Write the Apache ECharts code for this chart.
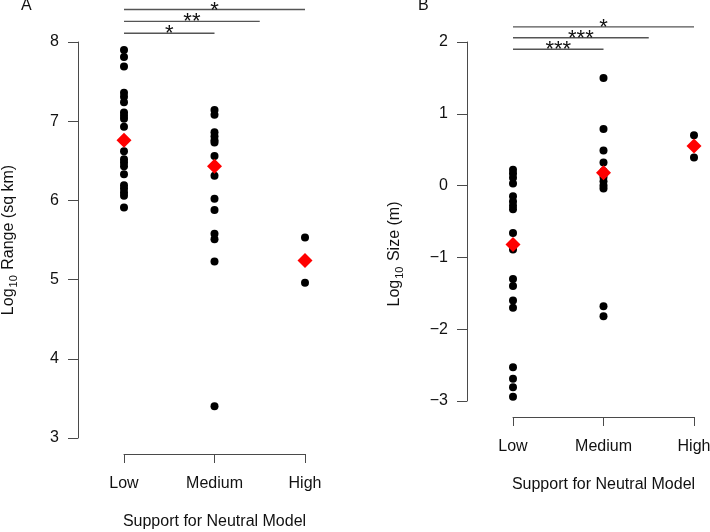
<!DOCTYPE html>
<html>
<head>
<meta charset="utf-8">
<script src="https://cdn.jsdelivr.net/npm/echarts@6/dist/echarts.min.js"></script>
<style>
html,body{margin:0;padding:0;background:#fff;}
#c{width:710px;height:532px;}
</style>
</head>
<body>
<div id="c"></div>
<script>
// ---- data ----
var categories = ['Low', 'Medium', 'High'];
var rangeLow = [7.90, 7.81, 7.69, 7.36, 7.31, 7.24, 7.11, 7.07, 7.03, 6.93, 6.62, 6.52, 6.48, 6.43, 6.33, 6.19, 6.15, 6.10, 6.06, 5.91];
var rangeMedium = [7.14, 7.08, 6.86, 6.81, 6.76, 6.73, 6.56, 6.31, 6.02, 5.88, 5.58, 5.51, 5.23, 3.40];
var rangeHigh = [5.53, 4.96];
var rangeMeans = [6.76, 6.43, 5.24];
var sizeLow = [0.22, 0.17, 0.11, 0.03, -0.15, -0.22, -0.28, -0.33, -0.66, -0.89, -1.30, -1.40, -1.60, -1.70, -2.53, -2.69, -2.81, -2.94];
var sizeMedium = [1.50, 0.79, 0.49, 0.32, 0.20, 0.12, 0.06, 0.00, -0.04, -1.68, -1.82];
var sizeHigh = [0.70, 0.39];
var sizeMeans = [-0.82, 0.18, 0.55];
var rangeTicks = [3, 4, 5, 6, 7, 8];
var sizeTicks = [-3, -2, -1, 0, 1, 2];
// significance comparisons: [fromCategory, toCategory, level (data units), label]
var sigRange = [[1, 2, 8.11, '*'], [1, 2.5, 8.26, '**'], [1, 3, 8.41, '*']];
var sigSize = [[1, 2, 1.90, '***'], [1, 2.5, 2.06, '***'], [1, 3, 2.21, '*']];

// ---- helpers ----
function pts(groups) {
  var out = [];
  groups.forEach(function (g, i) { g.forEach(function (v) { out.push([i + 1, v]); }); });
  return out;
}
function meanPts(m) { return m.map(function (v, i) { return [i + 1, v]; }); }
var axisColor = '#4a4a4a';
var textColor = '#111';
var FONT = '"Liberation Sans", Arial, Helvetica, sans-serif';

function xAxisCfg(gi) {
  return {
    gridIndex: gi, type: 'value', min: 1, max: 3, interval: 1, offset: 16,
    axisLine: {show: true, onZero: false, lineStyle: {color: axisColor, width: 1}},
    axisTick: {show: true, inside: false, length: 9, lineStyle: {color: axisColor}},
    axisLabel: {margin: 22, fontSize: 16, color: textColor, fontFamily: FONT,
      formatter: function (v) { return categories[Math.round(v) - 1] || ''; }},
    splitLine: {show: false},
    name: 'Support for Neutral Model', nameLocation: 'middle', nameGap: 60,
    nameTextStyle: {fontSize: 16, color: textColor, fontFamily: FONT}
  };
}
function yAxisCfg(gi, ticks, label, gap, pad) {
  return {
    gridIndex: gi, type: 'value', min: ticks[0], max: ticks[ticks.length - 1], interval: 1, offset: 46,
    axisLine: {show: true, onZero: false, lineStyle: {color: axisColor, width: 1}},
    axisTick: {show: true, inside: false, length: 10, lineStyle: {color: axisColor}},
    axisLabel: {margin: 19, fontSize: 16, color: textColor, fontFamily: FONT,
      formatter: function (v) { return v < 0 ? '\u2212' + Math.abs(v) : String(v); }},
    splitLine: {show: false},
    name: '{a|Log}{b|10}{a| ' + label + '}', nameLocation: 'middle', nameGap: gap,
    nameTextStyle: {fontFamily: FONT, color: textColor, padding: pad,
      rich: {
        a: {fontSize: 16, color: textColor, fontFamily: FONT, lineHeight: 20, verticalAlign: 'middle'},
        b: {fontSize: 11, color: textColor, fontFamily: FONT, lineHeight: 11, verticalAlign: 'bottom', padding: [0, 1, 0, 1]}
      }}
  };
}
function sigSeries(gi, rows) {
  return {
    type: 'custom', xAxisIndex: gi, yAxisIndex: gi, clip: false, silent: true, z: 5,
    data: rows.map(function (r) { return [r[0], r[1], r[2], r[3]]; }),
    renderItem: function (params, api) {
      var x1 = api.value(0), x2 = api.value(1), y = api.value(2);
      var row = rows[params.dataIndex];
      var p1 = api.coord([x1, y]);
      var p2 = api.coord([x2, y]);
      return {
        type: 'group',
        children: [
          {type: 'line', shape: {x1: p1[0], y1: p1[1], x2: p2[0], y2: p2[1]},
            style: {stroke: '#555', lineWidth: 1.4}},
          {type: 'text', style: {text: row[3], x: (p1[0] + p2[0]) / 2, y: p1[1] + 1,
            align: 'center', verticalAlign: 'middle', fontSize: 22, fontFamily: FONT, fill: '#111'}}
        ]
      };
    }
  };
}
function dotSeries(gi, groups) {
  return {type: 'scatter', xAxisIndex: gi, yAxisIndex: gi, clip: false, symbol: 'circle', symbolSize: 8,
    itemStyle: {color: '#000', opacity: 1}, data: pts(groups), z: 3, silent: true};
}
function meanSeries(gi, m) {
  return {type: 'scatter', xAxisIndex: gi, yAxisIndex: gi, clip: false, symbol: 'diamond', symbolSize: [15, 15],
    itemStyle: {color: '#ff0000', opacity: 1}, data: meanPts(m), z: 4, silent: true};
}

var chart = echarts.init(document.getElementById('c'), null, {renderer: 'canvas'});
chart.setOption({
  animation: false,
  backgroundColor: '#fff',
  title: [
    {text: 'A', left: 21, top: -2, padding: 0, textStyle: {fontSize: 16, fontWeight: 'normal', color: textColor, fontFamily: FONT}},
    {text: 'B', left: 418, top: -2, padding: 0, textStyle: {fontSize: 16, fontWeight: 'normal', color: textColor, fontFamily: FONT}}
  ],
  grid: [
    {left: 124, top: 42, width: 181, height: 396, outerBoundsMode: 'none', containLabel: false},
    {left: 513, top: 42, width: 181, height: 359, outerBoundsMode: 'none', containLabel: false}
  ],
  xAxis: [xAxisCfg(0), xAxisCfg(1)],
  yAxis: [yAxisCfg(0, rangeTicks, 'Range (sq km)', 59, [0, 0, 0, 0]), yAxisCfg(1, sizeTicks, 'Size (m)', 62, [0, 65, 0, 0])],
  series: [
    dotSeries(0, [rangeLow, rangeMedium, rangeHigh]),
    meanSeries(0, rangeMeans),
    sigSeries(0, sigRange),
    dotSeries(1, [sizeLow, sizeMedium, sizeHigh]),
    meanSeries(1, sizeMeans),
    sigSeries(1, sigSize)
  ]
});
</script>
</body>
</html>
